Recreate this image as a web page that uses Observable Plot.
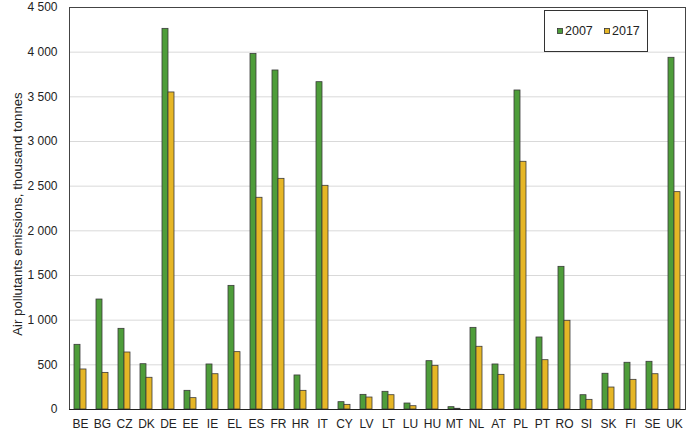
<!DOCTYPE html>
<html>
<head>
<meta charset="utf-8">
<script src="https://cdn.jsdelivr.net/npm/d3@7"></script>
<script src="https://cdn.jsdelivr.net/npm/@observablehq/plot@0.6"></script>
<style>
  html, body { margin: 0; padding: 0; background: #fff; }
  #chart { position: relative; width: 688px; height: 431px; }
  svg { font-family: "Liberation Sans", Arial, sans-serif; }
</style>
</head>
<body>
<div id="chart"></div>
<script>
const countries = ["BE","BG","CZ","DK","DE","EE","IE","EL","ES","FR","HR","IT","CY","LV","LT","LU","HU","MT","NL","AT","PL","PT","RO","SI","SK","FI","SE","UK"];
const values2007 = [724,1231,903,507,4261,209,504,1384,3981,3795,381,3664,82,164,198,67,541,26,914,504,3571,806,1597,160,400,523,534,3937];
const values2017 = [448,410,638,355,3549,127,395,642,2370,2582,209,2504,52,134,160,37,489,8,702,388,2773,552,993,108,246,332,395,2433];
const years = ["2007","2017"];
const yTicks = [0,500,1000,1500,2000,2500,3000,3500,4000,4500];
const colors = {"2007": "#4e9d3a", "2017": "#e6b626"};

const data = [];
countries.forEach((c, i) => {
  data.push({country: c, year: "2007", value: values2007[i]});
  data.push({country: c, year: "2017", value: values2017[i]});
});

const fmt = v => d3.format(",")(v).replace(/,/g, " ");

const plot = Plot.plot({
  width: 688,
  height: 431,
  marginLeft: 69,
  marginRight: 3,
  marginTop: 7,
  marginBottom: 22,
  style: {fontFamily: "Liberation Sans, Arial, sans-serif", fontSize: "12px", color: "#222"},
  x: {domain: countries, padding: 0, label: null, tickSize: 0, tickPadding: 10},
  y: {domain: [0, 4500], ticks: yTicks, tickFormat: fmt, label: null, tickSize: 0, tickPadding: 12},
  marks: [
    Plot.ruleY(yTicks.filter(d => d > 0 && d < 4500), {stroke: "#d9d9d9", strokeWidth: 1}),
    Plot.barY(data.filter(d => d.year === "2007"), {x: "country", y: "value", fill: colors["2007"], stroke: "#3a3a3a", strokeWidth: 0.8, insetLeft: 5, insetRight: 11}),
    Plot.barY(data.filter(d => d.year === "2017"), {x: "country", y: "value", fill: colors["2017"], stroke: "#3a3a3a", strokeWidth: 0.8, insetLeft: 11, insetRight: 5}),
    Plot.frame({stroke: "#444", strokeWidth: 1}),
    Plot.ruleY([0], {stroke: "#222", strokeWidth: 1.2})
  ]
});

document.getElementById("chart").appendChild(plot);

const svg = d3.select(plot);
// y-axis title
svg.append("text")
  .attr("transform", "translate(19,214) rotate(-90)")
  .attr("text-anchor", "middle")
  .attr("dominant-baseline", "middle")
  .attr("font-size", 13.2)
  .attr("fill", "#222")
  .text("Air pollutants emissions, thousand tonnes");

// legend box
const lg = svg.append("g").attr("text-anchor", "start");
lg.append("rect").attr("x", 544.5).attr("y", 10.5).attr("width", 103).attr("height", 41)
  .attr("fill", "#fff").attr("stroke", "#333").attr("stroke-width", 1);
const items = [{y: "2007", x: 557}, {y: "2017", x: 604}];
items.forEach(it => {
  lg.append("rect").attr("x", it.x + 0.5).attr("y", 28.5).attr("width", 5).attr("height", 5)
    .attr("fill", colors[it.y]).attr("stroke", "#333").attr("stroke-width", 0.8);
  lg.append("text").attr("x", it.x + 8).attr("y", 31.5).attr("dominant-baseline", "middle")
    .attr("text-anchor", "start")
    .attr("font-size", 12.5).attr("fill", "#222").text(it.y);
});
</script>
</body>
</html>
